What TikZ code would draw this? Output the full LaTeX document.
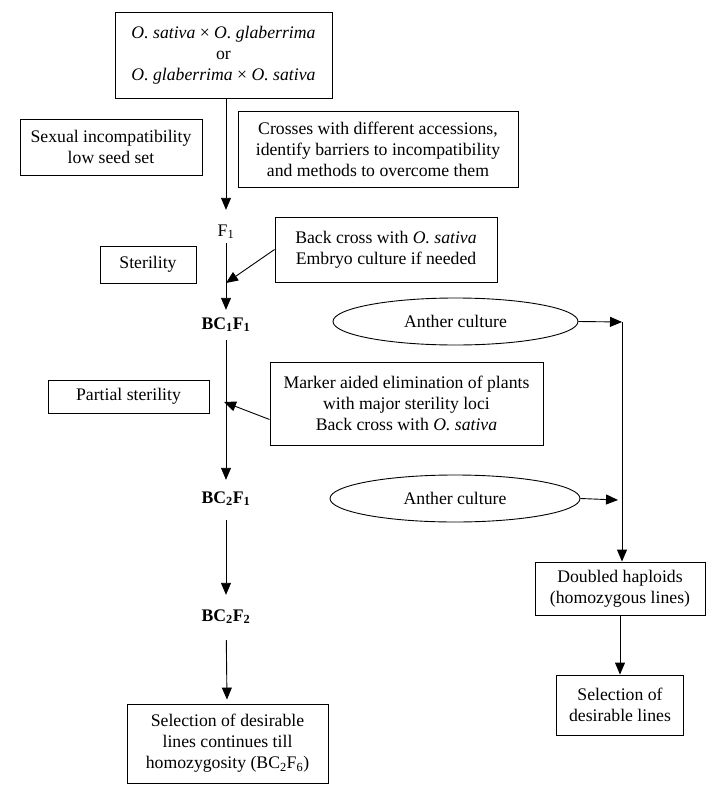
\documentclass[tikz,border=0pt]{standalone}
\usepackage{fontspec}
\setmainfont{Liberation Serif}
\usetikzlibrary{arrows.meta,shapes.geometric}

\begin{document}
\begin{tikzpicture}[x=1pt,y=-1pt,
every node/.style={font=\fontsize{17.7}{21}\selectfont},
box/.style={draw,line width=0.9pt,align=center,inner sep=0pt},
culture/.style={draw,ellipse,line width=0.9pt,inner sep=0pt},
gen/.style={inner xsep=2pt,inner ysep=7pt,text height=12pt,text depth=0pt},
arr/.style={draw,line width=0.9pt,-{Triangle[length=12pt,width=10pt]}},]
\useasboundingbox (0,0) rectangle (722,792);

% main line
\node[box,minimum width=217pt,minimum height=86pt] (cross) at (223.5,55)
  {\textit{O. sativa} × \textit{O. glaberrima}\\or\\\textit{O. glaberrima} × \textit{O. sativa}};
\node[gen] (f1) at (226,230) {F\textsubscript{1}};
\node[gen] (bc1f1) at (226,323) {\textbf{BC\textsubscript{1}F\textsubscript{1}}};
\node[gen] (bc2f1) at (226,497) {\textbf{BC\textsubscript{2}F\textsubscript{1}}};
\node[gen] (bc2f2) at (226,615) {\textbf{BC\textsubscript{2}F\textsubscript{2}}};
\node[box,minimum width=201pt,minimum height=79pt] (final) at (227.5,743.5)
  {Selection of desirable\\lines continues till\\homozygosity (BC\textsubscript{2}F\textsubscript{6})};

% side boxes
\node[box,minimum width=182pt,minimum height=56pt] (sexual) at (111,147)
  {Sexual incompatibility\\low seed set};
\node[box,minimum width=280pt,minimum height=76pt] (crosses) at (378,149)
  {Crosses with different accessions,\\identify barriers to incompatibility\\and methods to overcome them};
\node[box,minimum width=96pt,minimum height=37pt] (sterility) at (148,264.5) {Sterility};
\node[box,minimum width=222pt,minimum height=65pt] (backcross) at (386,249.5)
  {Back cross with \textit{O. sativa}\\Embryo culture if needed};
\node[box,minimum width=161pt,minimum height=33pt] (partial) at (128.5,396.5) {Partial sterility};
\node[box,minimum width=273pt,minimum height=83pt] (marker) at (406.5,403.5)
  {Marker aided elimination of plants\\with major sterility loci\\Back cross with \textit{O. sativa}};

% anther culture branch
\node[culture,minimum width=245pt,minimum height=47pt] (anther1) at (455.5,321.5) {Anther culture};
\node[culture,minimum width=250pt,minimum height=47pt] (anther2) at (455,498.5) {Anther culture};
\coordinate (j1) at (622,322);
\coordinate (j2) at (618,500);
\node[box,minimum width=170pt,minimum height=53pt] (doubled) at (620,588.5)
  {Doubled haploids\\(homozygous lines)};
\node[box,minimum width=127pt,minimum height=60pt] (selection) at (620,705)
  {Selection of\\desirable lines};

\coordinate (m1) at (226,283);
\coordinate (m2) at (224,402);

\draw[arr,shorten >=7pt] (cross.south -| f1.north) -- (f1.north);
\draw[arr] (f1) -- (bc1f1);
\draw[arr,shorten <=4pt,shorten >=4pt] (bc1f1) -- (bc2f1);
\draw[arr,shorten <=10pt,shorten >=7pt] (bc2f1) -- (bc2f2);
\draw[arr,shorten <=12pt,shorten >=4pt] (bc2f2) -- (final);
\draw[arr] (backcross.west) -- (m1);
\draw[arr] ([yshift=-16pt]marker.west) -- (m2);
\draw[arr] (anther1.east) -- (j1);
\draw[arr] (anther2.east) -- (j2);
\draw[arr] (j1 |- anther1.east) -- (j1 |- doubled.north);
\draw[arr] (doubled) -- (selection);

\end{tikzpicture}
\end{document}
